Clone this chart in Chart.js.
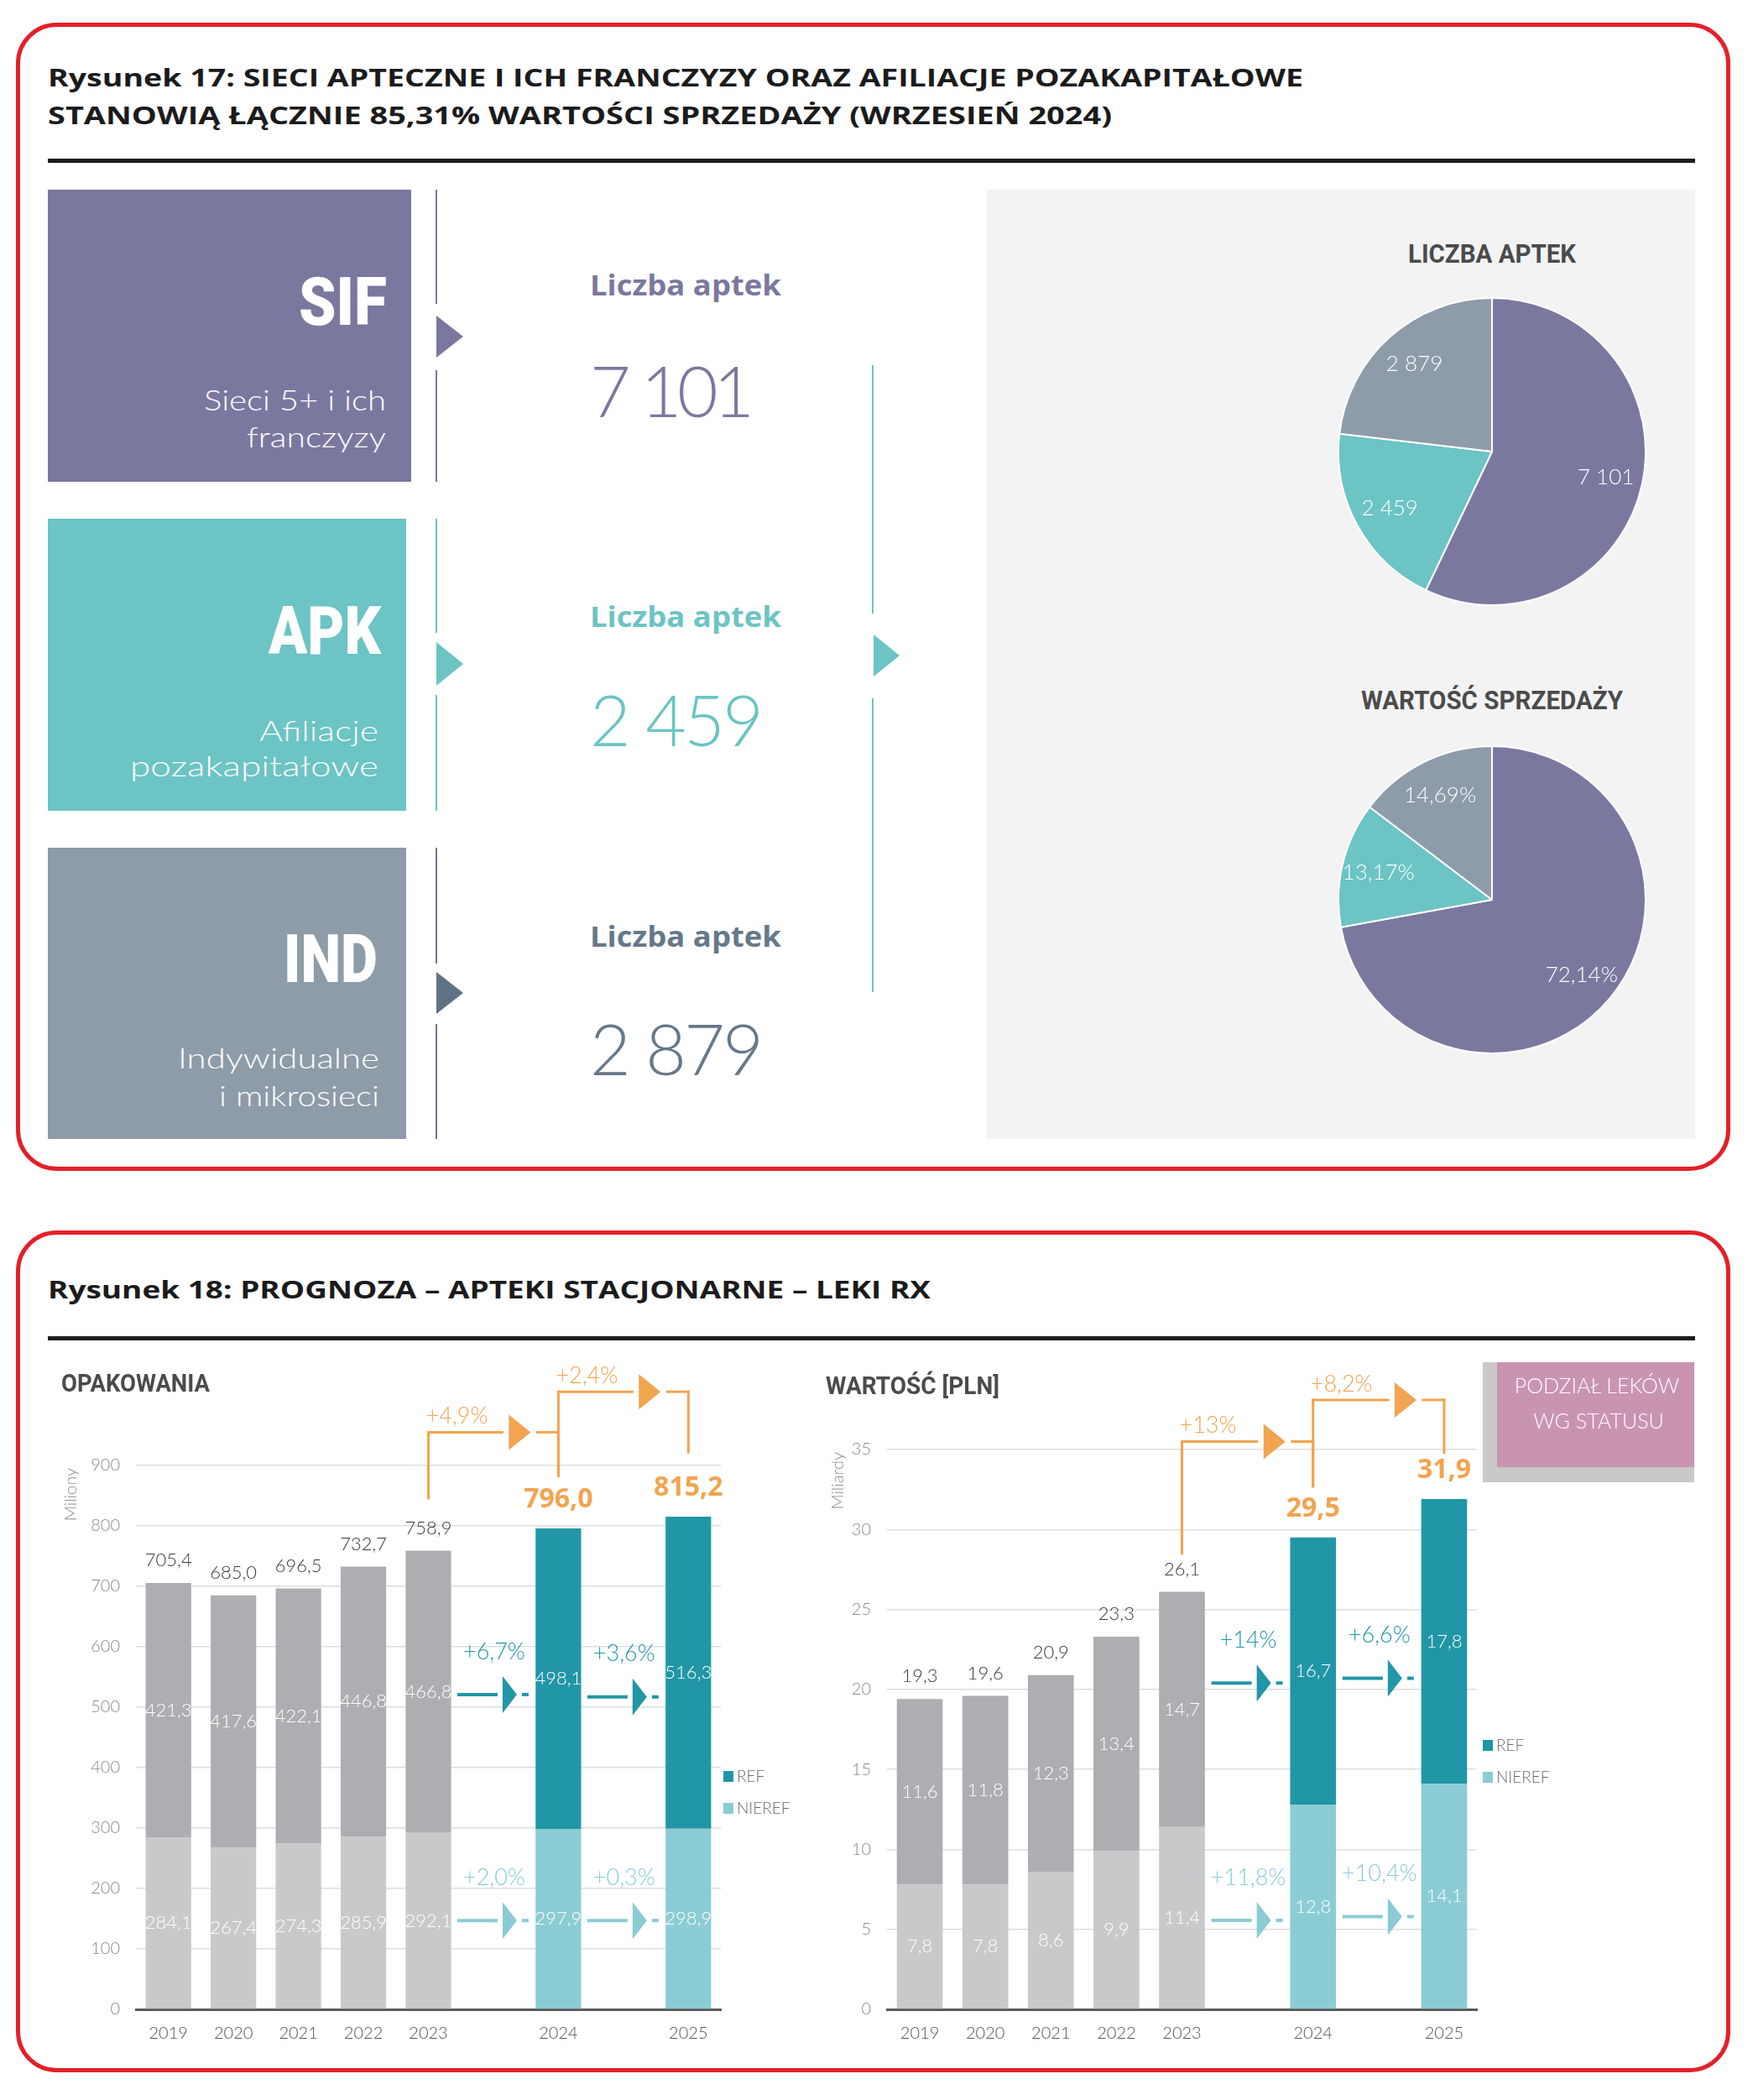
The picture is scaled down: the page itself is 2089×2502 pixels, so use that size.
<!DOCTYPE html>
<html lang="pl">
<head>
<meta charset="utf-8">
<title>Rysunek 17 i 18</title>
<script src="https://cdn.jsdelivr.net/npm/chart.js@4.4.1/dist/chart.umd.min.js"></script>
<style>
  html, body { margin: 0; padding: 0; background: #fff; }
  #strona { position: relative; width: 2089px; height: 2502px; overflow: hidden; background: #fff; }
  #tlo { position: absolute; left: 0; top: 0; }
  canvas { position: absolute; }
  .napis { position: absolute; line-height: 1; white-space: nowrap; z-index: 5; transform-origin: left top; }
</style>
</head>
<body>
<div id="strona">
  <svg id="tlo" width="2089" height="2502" viewBox="0 0 2089 2502">
    <!-- ramki -->
    <rect x="21.5" y="29.5" width="2038" height="1363" rx="46" fill="none" stroke="#e3202a" stroke-width="5"/>
    <rect x="21.5" y="1468.5" width="2038" height="998" rx="46" fill="none" stroke="#e3202a" stroke-width="5"/>
    <rect x="57" y="189" width="1963" height="5" fill="#1c1c1c"/>
    <rect x="57" y="1592" width="1963" height="5" fill="#1c1c1c"/>
    <!-- kafelki -->
    <rect x="57" y="226" width="433" height="348" fill="#7b789f"/>
    <rect x="57" y="618" width="427" height="348" fill="#6cc4c4"/>
    <rect x="57" y="1010" width="427" height="347" fill="#8e9ba8"/>
    <!-- linie przy kafelkach -->
    <g stroke-width="2">
      <line x1="520" y1="226" x2="520" y2="362" stroke="#7b789f"/>
      <line x1="520" y1="441" x2="520" y2="574" stroke="#7b789f"/>
      <line x1="520" y1="618" x2="520" y2="754" stroke="#6cc4c4"/>
      <line x1="520" y1="828" x2="520" y2="966" stroke="#6cc4c4"/>
      <line x1="520" y1="1010" x2="520" y2="1148" stroke="#6a7b8c"/>
      <line x1="520" y1="1220" x2="520" y2="1357" stroke="#6a7b8c"/>
      <line x1="1040" y1="435" x2="1040" y2="731" stroke="#6cc4c4"/>
      <line x1="1040" y1="832" x2="1040" y2="1182" stroke="#6cc4c4"/>
    </g>
    <polygon points="520,376 552,401 520,426" fill="#7b789f"/>
    <polygon points="520,765 552,791 520,817" fill="#6cc4c4"/>
    <polygon points="520,1158 552,1183 520,1208" fill="#5f7284"/>
    <polygon points="1041,756 1072,781 1041,806" fill="#6cc4c4"/>
    <!-- tło kół -->
    <rect x="1176" y="226" width="844" height="1131" fill="#f3f3f4"/>
    <!-- ramka podziału -->
    <rect x="1767" y="1623" width="252" height="143" fill="#c9c9c9"/>
    <rect x="1784" y="1623" width="235" height="125" fill="#c994b0"/>
  </svg>
  <canvas id="kolo1" width="368" height="368" style="left:1594px;top:354px"></canvas>
  <canvas id="kolo2" width="368" height="368" style="left:1594px;top:888px"></canvas>
  <canvas id="opakowania" width="920" height="860" style="left:40px;top:1600px"></canvas>
  <canvas id="wartosc" width="1080" height="860" style="left:960px;top:1600px"></canvas>
</div>
<script>
// ---------- dane ----------
const typyAptek = ['SIF', 'APK', 'IND'];
const liczbaAptek = [7101, 2459, 2879];
const udzialSprzedazy = [72.14, 13.17, 14.69];

const lata = ['2019', '2020', '2021', '2022', '2023', '2024', '2025'];
const opakNieref = [284.1, 267.4, 274.3, 285.9, 292.1, 297.9, 298.9];
const opakRef = [421.3, 417.6, 422.1, 446.8, 466.8, 498.1, 516.3];
const opakRazem = [705.4, 685.0, 696.5, 732.7, 758.9, 796.0, 815.2];
const wartNieref = [7.8, 7.8, 8.6, 9.9, 11.4, 12.8, 14.1];
const wartRef = [11.6, 11.8, 12.3, 13.4, 14.7, 16.7, 17.8];
const wartRazem = [19.3, 19.6, 20.9, 23.3, 26.1, 29.5, 31.9];

const opakWzrostRazem = ['+4,9%', '+2,4%'];
const opakWzrostRef = ['+6,7%', '+3,6%'];
const opakWzrostNieref = ['+2,0%', '+0,3%'];
const wartWzrostRazem = ['+13%', '+8,2%'];
const wartWzrostRef = ['+14%', '+6,6%'];
const wartWzrostNieref = ['+11,8%', '+10,4%'];

// ---------- kolory ----------
const koloryTypow = ['#7b789f', '#6cc4c4', '#8e9ba9'];
const POMARANCZ = '#f2a44f';
const TEAL = '#2196a6';
const TEAL_JASNY = '#8bccd4';

// ---------- pomocnicze ----------
const liczba1 = v => v.toFixed(1).replace('.', ',');
const tysiace = v => String(v).replace(/\B(?=(\d{3})+(?!\d))/g, ' ');
const procent = v => v.toFixed(2).replace('.', ',') + '%';

// lata 2024 i 2025 stoją z przerwą przed sobą
const naSloty = arr => [...arr.slice(0, 5), null, arr[5], null, arr[6]];
const etykietyOsi = [...lata.slice(0, 5), '', lata[5], '', lata[6]];
const kolorySlotow = (historia, prognoza) => etykietyOsi.map((_, i) => i < 5 ? historia : prognoza);

// ---------- napisy HTML ----------
const strona = document.getElementById('strona');
const KROJE = {
  open: { rodzina: '"Open Sans", sans-serif', k: 0.888 },
  lato: { rodzina: 'Lato, sans-serif', k: 0.887 },
  roboto: { rodzina: 'Roboto, sans-serif', k: 0.842 }
};

function napis(tekst, x, linia, o) {
  const d = document.createElement('div');
  d.className = 'napis';
  d.textContent = tekst;
  const kroj = KROJE[o.kroj];
  d.style.fontFamily = kroj.rodzina;
  d.style.fontSize = o.rozmiar + 'px';
  d.style.fontWeight = o.waga;
  d.style.color = o.kolor;
  d.style.top = (linia - kroj.k * o.rozmiar) + 'px';
  strona.appendChild(d);
  let w = d.getBoundingClientRect().width;
  if (o.odstep) {
    const ls = (o.odstep - w) / Math.max(tekst.length - 1, 1);
    d.style.letterSpacing = ls + 'px';
    w = o.odstep + ls;
  }
  if (o.scisk) {
    d.style.transform = 'scaleX(' + (o.scisk / w) + ')';
    w = o.scisk;
  }
  const wyr = o.wyr || 'left';
  let left = x;
  if (wyr === 'right') left = x - w;
  if (wyr === 'center') left = x - w / 2;
  d.style.left = left + 'px';
}

const tytul = { kroj: 'open', waga: 700, rozmiar: 29, kolor: '#1b1b1b' };
napis('Rysunek 17: SIECI APTECZNE I ICH FRANCZYZY ORAZ AFILIACJE POZAKAPITAŁOWE', 57, 103, { ...tytul, scisk: 1496 });
napis('STANOWIĄ ŁĄCZNIE 85,31% WARTOŚCI SPRZEDAŻY (WRZESIEŃ 2024)', 57, 148, { ...tytul, scisk: 1268 });
napis('Rysunek 18: PROGNOZA – APTEKI STACJONARNE – LEKI RX', 57, 1547, { ...tytul, scisk: 1052 });

const skrot = { kroj: 'roboto', waga: 900, rozmiar: 80, kolor: '#ffffff', wyr: 'right' };
napis(typyAptek[0], 461, 387, { ...skrot, scisk: 105 });
napis(typyAptek[1], 454, 779, { ...skrot, scisk: 134 });
napis(typyAptek[2], 450, 1170, { ...skrot, scisk: 112 });

const opis = { kroj: 'lato', waga: 300, rozmiar: 34, kolor: '#ffffff', wyr: 'right' };
napis('Sieci 5+ i ich', 460, 489, { ...opis, scisk: 217 });
napis('franczyzy', 460, 533, { ...opis, scisk: 166 });
napis('Afiliacje', 451, 883, { ...opis, scisk: 142 });
napis('pozakapitałowe', 451, 925, { ...opis, scisk: 296 });
napis('Indywidualne', 452, 1273, { ...opis, scisk: 240 });
napis('i mikrosieci', 452, 1318, { ...opis, scisk: 191 });

const koloryLiczb = ['#7b789f', '#6cc4c4', '#667889'];
[352, 747, 1128].forEach((y, i) => {
  napis('Liczba aptek', 703, y, { kroj: 'open', waga: 700, rozmiar: 34, kolor: koloryLiczb[i], scisk: 228 });
});
const szerLiczb = [196, 207, 207];
[498, 890, 1282].forEach((y, i) => {
  napis(tysiace(liczbaAptek[i]), 703, y, { kroj: 'lato', waga: 300, rozmiar: 84, kolor: koloryLiczb[i], odstep: szerLiczb[i] });
});

const naglowek = { kroj: 'roboto', waga: 700, rozmiar: 32, kolor: '#4b4b4b' };
napis('LICZBA APTEK', 1778, 313, { ...naglowek, wyr: 'center', scisk: 200 });
napis('WARTOŚĆ SPRZEDAŻY', 1778, 845, { ...naglowek, wyr: 'center', scisk: 312 });
napis('OPAKOWANIA', 73, 1658, { ...naglowek, rozmiar: 30, scisk: 177 });
napis('WARTOŚĆ [PLN]', 984, 1661, { ...naglowek, rozmiar: 30, scisk: 207 });

napis('PODZIAŁ LEKÓW', 1903, 1660, { kroj: 'lato', waga: 300, rozmiar: 25, kolor: '#ffffff', wyr: 'center' });
napis('WG STATUSU', 1905, 1702, { kroj: 'lato', waga: 300, rozmiar: 25, kolor: '#ffffff', wyr: 'center' });

// ---------- Chart.js ----------
Chart.defaults.font.family = 'Lato, sans-serif';

const etykietyKolaPlugin = {
  id: 'etykietyKola',
  afterDatasetsDraw(chart, args, o) {
    const ctx = chart.ctx;
    const meta = chart.getDatasetMeta(0);
    ctx.save();
    ctx.font = '300 26px Lato';
    ctx.fillStyle = '#ffffff';
    ctx.textAlign = 'center';
    ctx.textBaseline = 'middle';
    meta.data.forEach((arc, i) => {
      const p = arc.getProps(['x', 'y', 'startAngle', 'endAngle', 'outerRadius']);
      const a = (p.startAngle + p.endAngle) / 2;
      const r = p.outerRadius * 0.76;
      ctx.fillText(o.teksty[i], p.x + Math.cos(a) * r, p.y + Math.sin(a) * r);
    });
    ctx.restore();
  }
};

function wykresKolowy(id, wartosci, teksty) {
  return new Chart(document.getElementById(id), {
    type: 'pie',
    data: {
      labels: typyAptek,
      datasets: [{ data: wartosci, backgroundColor: koloryTypow, borderColor: '#ffffff', borderWidth: 2 }]
    },
    options: {
      responsive: false,
      animation: false,
      devicePixelRatio: 1,
      layout: { padding: 0 },
      plugins: {
        legend: { display: false },
        tooltip: { enabled: false },
        etykietyKola: { teksty }
      }
    },
    plugins: [etykietyKolaPlugin]
  });
}

wykresKolowy('kolo1', liczbaAptek, liczbaAptek.map(tysiace));
wykresKolowy('kolo2', udzialSprzedazy, udzialSprzedazy.map(procent));

function odcinek(ctx, x1, y1, x2, y2) {
  ctx.beginPath();
  ctx.moveTo(x1, y1);
  ctx.lineTo(x2, y2);
  ctx.stroke();
}

function trojkat(ctx, xPodst, ySrodek, xCzubek, polWys) {
  ctx.beginPath();
  ctx.moveTo(xPodst, ySrodek - polWys);
  ctx.lineTo(xCzubek, ySrodek);
  ctx.lineTo(xPodst, ySrodek + polWys);
  ctx.closePath();
  ctx.fill();
}

const prognozaPlugin = {
  id: 'prognoza',
  afterDatasetsDraw(chart, args, o) {
    const ctx = chart.ctx;
    const sx = chart.scales.x, sy = chart.scales.y, area = chart.chartArea;
    const px = i => sx.getPixelForValue(i);
    const py = v => sy.getPixelForValue(v);

    // tytuł osi Y
    ctx.save();
    ctx.translate(area.left + o.tytulX, area.top + 3);
    ctx.rotate(-Math.PI / 2);
    ctx.font = '300 20px Lato';
    ctx.fillStyle = '#8f8f8f';
    ctx.textAlign = 'right';
    ctx.textBaseline = 'middle';
    ctx.fillText(o.tytulY, 0, 0);
    ctx.restore();

    ctx.save();
    ctx.textBaseline = 'middle';
    ctx.textAlign = 'center';

    // wartości w segmentach
    chart.data.datasets.forEach((ds, di) => {
      const meta = chart.getDatasetMeta(di);
      meta.data.forEach((el, i) => {
        const v = ds.data[i];
        if (v == null) return;
        ctx.font = '300 22px Lato';
        ctx.fillStyle = '#ffffff';
        ctx.fillText(liczba1(v), el.x, (el.y + el.base) / 2);
      });
    });

    // sumy nad słupkami
    const gora = chart.getDatasetMeta(1);
    naSloty(o.sumy).forEach((v, i) => {
      if (v == null) return;
      const el = gora.data[i];
      if (i > 4) {
        ctx.font = '700 32px "Open Sans"';
        ctx.fillStyle = POMARANCZ;
        ctx.fillText(liczba1(v), el.x, el.y - 34);
      } else {
        ctx.font = '300 22px Lato';
        ctx.fillStyle = '#3c3c3c';
        ctx.fillText(liczba1(v), el.x, el.y - 27);
      }
    });

    // klamry wzrostu całkowitego
    ctx.strokeStyle = POMARANCZ;
    ctx.fillStyle = POMARANCZ;
    ctx.lineWidth = 3;
    ctx.lineCap = 'square';
    o.klamry.forEach((k, j) => {
      const x1 = px(k.od), x2 = px(k.do), yl = py(k.poziom);
      const czubek = x2 - 33;
      odcinek(ctx, x1, py(k.start), x1, yl);
      odcinek(ctx, x1, yl, czubek - 34, yl);
      trojkat(ctx, czubek - 26, yl, czubek, 21);
      odcinek(ctx, czubek + 8, yl, x2, yl);
      odcinek(ctx, x2, yl, x2, py(k.koniec));
      ctx.font = '300 27px Lato';
      ctx.textAlign = 'left';
      ctx.fillText(o.wzrostRazem[j], x1 - 3, yl - 19);
    });

    // strzałki REF / NIEREF
    ctx.lineCap = 'butt';
    const strzalka = (slot, poziom, kolor, tekst) => {
      const gx = px(slot), ly = py(poziom);
      ctx.strokeStyle = kolor;
      ctx.fillStyle = kolor;
      ctx.lineWidth = 4;
      odcinek(ctx, gx - 43, ly, gx + 5, ly);
      trojkat(ctx, gx + 11, ly, gx + 28, 22);
      odcinek(ctx, gx + 34, ly, gx + 42, ly);
      ctx.font = '300 27px Lato';
      ctx.textAlign = 'center';
      ctx.fillText(tekst, gx + 1, ly - 51);
    };
    o.strzalkiRef.forEach((s, j) => strzalka(s.slot, s.poziom, TEAL, o.wzrostRef[j]));
    o.strzalkiNieref.forEach((s, j) => strzalka(s.slot, s.poziom, TEAL_JASNY, o.wzrostNieref[j]));

    // legenda
    ctx.font = '300 19px Lato';
    ctx.textAlign = 'left';
    o.legenda.forEach(l => {
      const yy = area.bottom - l.dy;
      const xx = area.right + o.legendaX;
      ctx.fillStyle = l.kolor;
      ctx.fillRect(xx, yy - 6, 12, 13);
      ctx.fillStyle = '#6b6b6b';
      ctx.fillText(l.tekst, xx + 16, yy + 1);
    });
    ctx.restore();
  }
};

function wykresSlupkowy(id, nieref, ref, cfg) {
  return new Chart(document.getElementById(id), {
    type: 'bar',
    data: {
      labels: etykietyOsi,
      datasets: [
        { label: 'NIEREF', data: naSloty(nieref), backgroundColor: kolorySlotow('#c8c9cb', TEAL_JASNY),
          barPercentage: 0.7, categoryPercentage: 1 },
        { label: 'REF', data: naSloty(ref), backgroundColor: kolorySlotow('#adaeb1', TEAL),
          barPercentage: 0.7, categoryPercentage: 1 }
      ]
    },
    options: {
      responsive: false,
      animation: false,
      devicePixelRatio: 1,
      layout: { padding: cfg.padding },
      plugins: {
        legend: { display: false },
        tooltip: { enabled: false },
        prognoza: cfg.opisy
      },
      scales: {
        x: {
          stacked: true,
          z: 1,
          grid: { display: false },
          border: { display: true, color: '#5a5a5a', width: 3 },
          ticks: { color: '#555555', font: { size: 20, weight: '300' }, padding: 9, autoSkip: false, maxRotation: 0 },
          afterFit: s => { s.height = 66; }
        },
        y: {
          stacked: true,
          min: 0,
          max: cfg.max,
          border: { display: false },
          grid: {
            drawTicks: false,
            lineWidth: 1.5,
            color: c => c.tick.value === 0 ? 'rgba(0,0,0,0)' : '#dddddd'
          },
          ticks: { stepSize: cfg.krok, padding: 19, color: '#8a8a8a', font: { size: 20, weight: '300' } },
          afterFit: s => { s.width = cfg.osY; }
        }
      }
    },
    plugins: [prognozaPlugin]
  });
}

wykresSlupkowy('opakowania', opakNieref, opakRef, {
  padding: { top: 146, right: 101, bottom: 0, left: 0 },
  osY: 122,
  max: 900,
  krok: 100,
  opisy: {
    tytulY: 'Miliony',
    tytulX: -77,
    sumy: opakRazem,
    wzrostRazem: opakWzrostRazem,
    wzrostRef: opakWzrostRef,
    wzrostNieref: opakWzrostNieref,
    klamry: [
      { od: 4, do: 6, poziom: 955, start: 846, koniec: 883 },
      { od: 6, do: 8, poziom: 1022, start: 883, koniec: 922 }
    ],
    strzalkiRef: [{ slot: 5, poziom: 521 }, { slot: 7, poziom: 517 }],
    strzalkiNieref: [{ slot: 5, poziom: 147 }, { slot: 7, poziom: 147 }],
    legendaX: 3,
    legenda: [
      { tekst: 'REF', kolor: TEAL, dy: 278 },
      { tekst: 'NIEREF', kolor: TEAL_JASNY, dy: 240 }
    ]
  }
});

wykresSlupkowy('wartosc', wartNieref, wartRef, {
  padding: { top: 127, right: 280, bottom: 0, left: 0 },
  osY: 97,
  max: 35,
  krok: 5,
  opisy: {
    tytulY: 'Miliardy',
    tytulX: -58,
    sumy: wartRazem,
    wzrostRazem: wartWzrostRazem,
    wzrostRef: wartWzrostRef,
    wzrostNieref: wartWzrostNieref,
    klamry: [
      { od: 4, do: 6, poziom: 35.5, start: 28.5, koniec: 32.7 },
      { od: 6, do: 8, poziom: 38.1, start: 32.7, koniec: 34.8 }
    ],
    strzalkiRef: [{ slot: 5, poziom: 20.4 }, { slot: 7, poziom: 20.7 }],
    strzalkiNieref: [{ slot: 5, poziom: 5.56 }, { slot: 7, poziom: 5.8 }],
    legendaX: 7,
    legenda: [
      { tekst: 'REF', kolor: TEAL, dy: 315 },
      { tekst: 'NIEREF', kolor: TEAL_JASNY, dy: 277 }
    ]
  }
});
</script>
</body>
</html>
